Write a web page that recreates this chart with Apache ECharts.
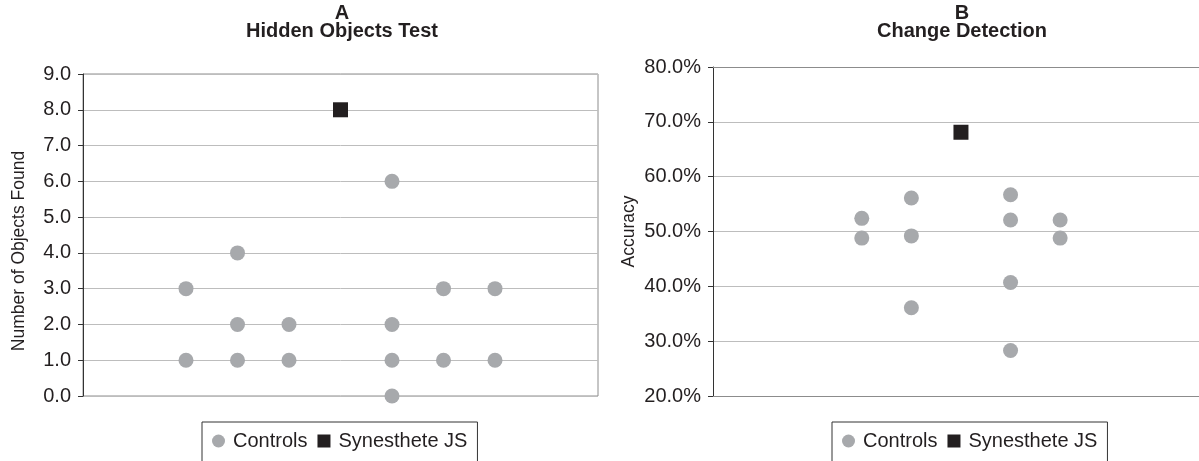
<!DOCTYPE html>
<html>
<head>
<meta charset="utf-8">
<script src="https://cdn.jsdelivr.net/npm/echarts@6/dist/echarts.min.js"></script>
<style>
html,body{margin:0;padding:0;background:#fff;}
#chart{width:1199px;height:461px;}
</style>
</head>
<body>
<div id="chart"></div>
<script>
// Panel A: Hidden Objects Test
const aControlsX = [2, 2, 3, 3, 3, 4, 4, 6, 6, 6, 6, 7, 7, 8, 8];
const aControlsY = [3, 1, 4, 2, 1, 2, 1, 6, 2, 1, 0, 3, 1, 3, 1];
const aSynX = [5];
const aSynY = [8];
// Panel B: Change Detection (accuracy, %)
const bControlsX = [3, 3, 4, 4, 4, 6, 6, 6, 6, 7, 7];
const bControlsY = [52.4, 48.8, 56.1, 49.2, 36.1, 56.7, 52.1, 40.7, 28.3, 52.1, 48.8];
const bSynX = [5];
const bSynY = [68.1];

const titles = ['A\nHidden Objects Test', 'B\nChange Detection'];
const yNames = ['Number of Objects Found', 'Accuracy'];
const legendNames = ['Controls', 'Synesthete JS'];

const FONT = "'Liberation Sans', Arial, sans-serif";
const TXT = '#231f20';
const GRAY = '#a7a9ac';
const BLACK = '#231f20';
const FRAME = '#8c8c8c';

const pairs = (xs, ys) => xs.map((x, i) => [x, ys[i]]);

const chart = echarts.init(document.getElementById('chart'), null, {renderer: 'canvas'});

function yAxis(gridIndex, min, max, interval, fmt, name, gap, namePad) {
  return {
    type: 'value', gridIndex, min, max, interval,
    name, nameLocation: 'middle', nameGap: gap, nameMoveOverlap: false,
    nameTextStyle: {fontFamily: FONT, fontSize: 17.5, color: TXT, padding: namePad},
    axisLine: {show: true, lineStyle: {color: '#333', width: 1}},
    axisTick: {show: true, length: 5, lineStyle: {color: '#333'}},
    axisLabel: {formatter: fmt, margin: 12, fontFamily: FONT, fontSize: 20, color: TXT},
    splitLine: {show: true, lineStyle: {color: '#bdbdbd', width: 1}}
  };
}
function frameAxis(gridIndex, max, position) {
  return {
    type: 'value', gridIndex, min: 0, max, position,
    axisLine: {show: true, onZero: false, lineStyle: {color: FRAME, width: 1}},
    axisTick: {show: false}, axisLabel: {show: false}, splitLine: {show: false}
  };
}
const legendBase = {
  orient: 'horizontal', itemWidth: 13, itemHeight: 13, itemGap: 10,
  padding: [9, 10, 30, 10], borderColor: '#333', borderWidth: 1,
  textStyle: {fontFamily: FONT, fontSize: 20, color: TXT, padding: [0, 0, 0, 3]},
  data: [{name: legendNames[0], icon: 'circle'}, {name: legendNames[1], icon: 'rect'}]
};

const option = {
  animation: false,
  backgroundColor: '#fff',
  textStyle: {fontFamily: FONT},
  title: [
    {text: titles[0], left: 337, top: -1, textAlign: 'center',
     textStyle: {fontFamily: FONT, fontSize: 20, fontWeight: 'bold', color: TXT, lineHeight: 18}},
    {text: titles[1], left: 957, top: -1, textAlign: 'center',
     textStyle: {fontFamily: FONT, fontSize: 20, fontWeight: 'bold', color: TXT, lineHeight: 18}}
  ],
  grid: [
    {left: 83, top: 74, width: 515, bottom: 65, show: true, borderColor: FRAME, borderWidth: 1},
    {left: 713, top: 67, right: 0, bottom: 65, show: false}
  ],
  xAxis: [
    {type: 'value', gridIndex: 0, min: 0, max: 10, show: false},
    frameAxis(1, 9.8, 'bottom'),
    frameAxis(1, 9.8, 'top')
  ],
  yAxis: [
    yAxis(0, 0, 9, 1, v => v.toFixed(1), yNames[0], 55, [0, 32, 0, 0]),
    yAxis(1, 20, 80, 10, v => v.toFixed(1) + '%', yNames[1], 75, [0, 0, 0, 0])
  ],
  legend: [
    Object.assign({}, legendBase, {left: 202, top: 422}),
    Object.assign({}, legendBase, {left: 832, top: 422})
  ],
  series: [
    {name: legendNames[0], type: 'scatter', xAxisIndex: 0, yAxisIndex: 0, symbol: 'circle', symbolSize: 15,
     itemStyle: {color: GRAY, opacity: 1}, data: pairs(aControlsX, aControlsY)},
    {name: legendNames[1], type: 'scatter', xAxisIndex: 0, yAxisIndex: 0, symbol: 'rect', symbolSize: 15,
     itemStyle: {color: BLACK, opacity: 1}, data: pairs(aSynX, aSynY)},
    {name: legendNames[0], type: 'scatter', xAxisIndex: 1, yAxisIndex: 1, symbol: 'circle', symbolSize: 15,
     itemStyle: {color: GRAY, opacity: 1}, data: pairs(bControlsX, bControlsY)},
    {name: legendNames[1], type: 'scatter', xAxisIndex: 1, yAxisIndex: 1, symbol: 'rect', symbolSize: 15,
     itemStyle: {color: BLACK, opacity: 1}, data: pairs(bSynX, bSynY)}
  ]
};
chart.setOption(option);
</script>
</body>
</html>
